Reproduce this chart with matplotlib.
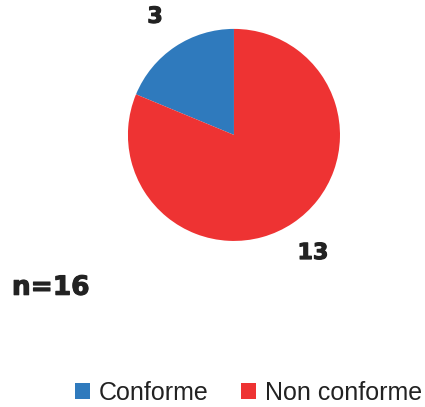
import numpy as np
import matplotlib.pyplot as plt
import matplotlib.patheffects as pe
from matplotlib.patches import Patch

# Données
categories = ['Conforme', 'Non conforme']
valeurs = [3, 13]
couleurs = ['#2f7abd', '#ee3333']
total = sum(valeurs)

gras = [pe.withStroke(linewidth=0.8, foreground='#222222')]

fig = plt.figure(figsize=(4.25, 4.07), dpi=100)
ax = fig.add_axes([0.301, 0.408, 0.499, 0.521])

ax.pie(valeurs, colors=couleurs, startangle=90, counterclock=True,
       labels=[str(v) for v in valeurs], labeldistance=1.34,
       textprops=dict(fontsize=16, fontweight='bold', color='#222222',
                      family='DejaVu Sans', path_effects=gras,
                      ha='center', va='center'))
ax.set_xlim(-1, 1)
ax.set_ylim(-1, 1)
ax.set_aspect('equal')

# n total
fig.text(0.028, 0.293, f'n={total}', fontsize=19, fontweight='bold',
         color='#222222', family='DejaVu Sans', va='center', path_effects=gras)

# Légende
handles = [Patch(facecolor=c, edgecolor='none') for c in couleurs]
fig.legend(handles, categories, loc='center', bbox_to_anchor=(0.585, 0.035),
           ncol=2, frameon=False, prop=dict(family='Liberation Sans', size=18),
           handlelength=0.6, handleheight=0.6, handletextpad=0.35,
           columnspacing=1.3, labelcolor='#222222')

plt.savefig('out.png', dpi=100)
